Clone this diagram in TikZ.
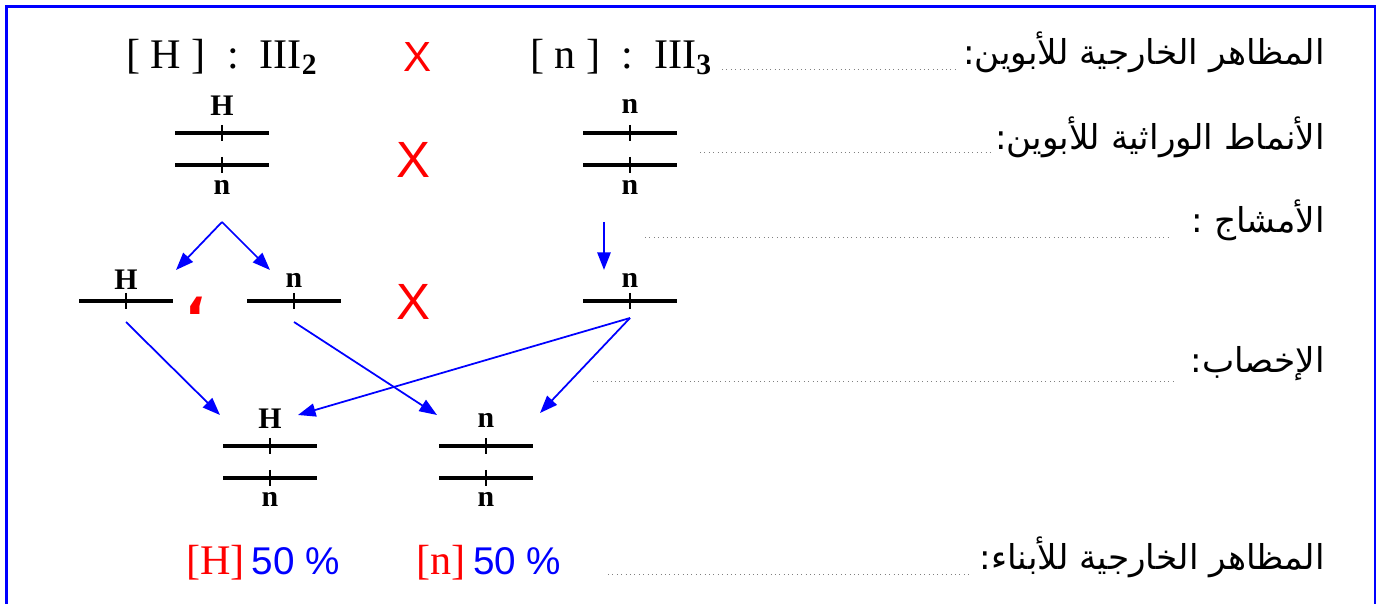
\documentclass[tikz,border=0pt]{standalone}
\usepackage{fontspec}
\setmainfont{Liberation Serif}
\setsansfont{Liberation Sans}
\newfontfamily\arabicfont[Script=Arabic]{DejaVu Sans}
\TeXXeTstate=1
\usetikzlibrary{arrows.meta}

\tikzset{
  frame/.style={blue,line width=1.2pt},
  chrom/.style={line width=2.4pt},
  chrtick/.style={line width=1.6pt},
  allele/.style={font=\bfseries\fontsize{17}{17}\selectfont,inner sep=0pt},
  phen/.style={font=\fontsize{24}{24}\selectfont,inner sep=0pt},
  cross/.style={red,font=\sffamily\fontsize{#1}{#1}\selectfont,inner sep=0pt},
  gene/.style={blue,line width=1pt,-{Triangle[length=10pt,width=7.5pt]}},
  guide/.style={dotted,gray,line width=0.5pt},
  arlabel/.style={anchor=east,font=\arabicfont\fontsize{19.5}{19.5}\selectfont,inner sep=0pt},
  ratio/.style={font=\fontsize{24}{24}\selectfont,inner sep=0pt}
}

\begin{document}
\begin{tikzpicture}[x=0.02cm,y=-0.02cm]
  \useasboundingbox (0,0) rectangle (1380,604);
  % Frame (open at the bottom)
  \draw[frame] (6.5,640) -- (6.5,6.5) -- (1375,6.5) -- (1375,640);

  % Question labels on the right
  \node[arlabel] (q1) at (1325,52) {\beginR المظاهر الخارجية للأبوين:\endR};
  \node[arlabel] (q2) at (1325,137) {\beginR الأنماط الوراثية للأبوين:\endR};
  \node[arlabel] (q3) at (1325,220) {\beginR الأمشاج :\endR};
  \node[arlabel] (q4) at (1325,364) {\beginR الإخصاب:\endR};
  \node[arlabel] (q5) at (1325,557) {\beginR المظاهر الخارجية للأبناء:\endR};
  \draw[guide] (722,69) -- (958,69);
  \draw[guide] (700,152) -- (990,152);
  \draw[guide] (645,237) -- (1168,237);
  \draw[guide] (593,381) -- (1175,381);
  \draw[guide] (608,574) -- (970,574);

  % Parents phenotypes
  \node[phen] (ph1) at (222,57) {[\ H\ ]\ \ :\ \ III\textsubscript{\textbf{2}}};
  \node[phen] (ph2) at (621,57) {[\ n\ ]\ \ :\ \ III\textsubscript{\textbf{3}}};
  \node[cross=24] (x1) at (418,57) {X};

  % Parents genotypes
  \foreach \cx in {222,630} {
    \draw[chrom] (\cx-47,133) -- (\cx+47,133);
    \draw[chrom] (\cx-47,165) -- (\cx+47,165);
    \draw[chrtick] (\cx,125) -- (\cx,141);
    \draw[chrtick] (\cx,157) -- (\cx,173);
  }
  \node[allele] (p1top) at (222,106) {H};
  \node[allele] (p1bot) at (222,187) {n};
  \node[allele] (p2top) at (630,106) {n};
  \node[allele] (p2bot) at (630,187) {n};
  \node[cross=29] (x2) at (413,160) {X};

  % Gametes
  \foreach \cx in {126,294,630} {
    \draw[chrom] (\cx-47,301) -- (\cx+47,301);
    \draw[chrtick] (\cx,293) -- (\cx,309);
  }
  \node[allele] (g1) at (126,280) {H};
  \node[allele] (g2) at (294,280) {n};
  \node[allele] (g3) at (630,280) {n};
  \node[red,font=\arabicfont\bfseries\fontsize{30}{30}\selectfont,inner sep=0pt] (comma) at (196,306) {،};
  \node[cross=29] (x3) at (413,302) {X};

  % Offspring genotypes
  \foreach \cx in {270,486} {
    \draw[chrom] (\cx-47,446) -- (\cx+47,446);
    \draw[chrom] (\cx-47,478) -- (\cx+47,478);
    \draw[chrtick] (\cx,438) -- (\cx,454);
    \draw[chrtick] (\cx,470) -- (\cx,486);
  }
  \node[allele] (f1top) at (270,419) {H};
  \node[allele] (f1bot) at (270,499) {n};
  \node[allele] (f2top) at (486,420) {n};
  \node[allele] (f2bot) at (486,499) {n};

  % Arrows
  \coordinate (s1) at (222,222);
  \coordinate (s2) at (604,222);
  \coordinate (s3) at (126,322);
  \coordinate (s4) at (294,322);
  \coordinate (s5) at (630,318);
  \coordinate (e1) at (176,270);
  \coordinate (e2) at (270,270);
  \coordinate (e3) at (604,270);
  \coordinate (e4) at (220,415);
  \coordinate (e5) at (437,415);
  \coordinate (e6) at (298,415);
  \coordinate (e7) at (540,413);
  \draw[gene] (s1) -- (e1);
  \draw[gene] (s1) -- (e2);
  \draw[gene,line width=1.3pt] (s2) -- (e3);
  \draw[gene] (s3) -- (e4);
  \draw[gene] (s4) -- (e5);
  \draw[gene] (s5) -- (e6);
  \draw[gene] (s5) -- (e7);

  % Offspring phenotypes
  \node[ratio] (r1) at (263,563) {\textcolor{red}{[H]}\,\textcolor{blue}{\sffamily\fontsize{22}{22}\selectfont 50 \%}};
  \node[ratio] (r2) at (489,563) {\textcolor{red}{[n]}\,\textcolor{blue}{\sffamily\fontsize{22}{22}\selectfont 50 \%}};
\end{tikzpicture}
\end{document}
